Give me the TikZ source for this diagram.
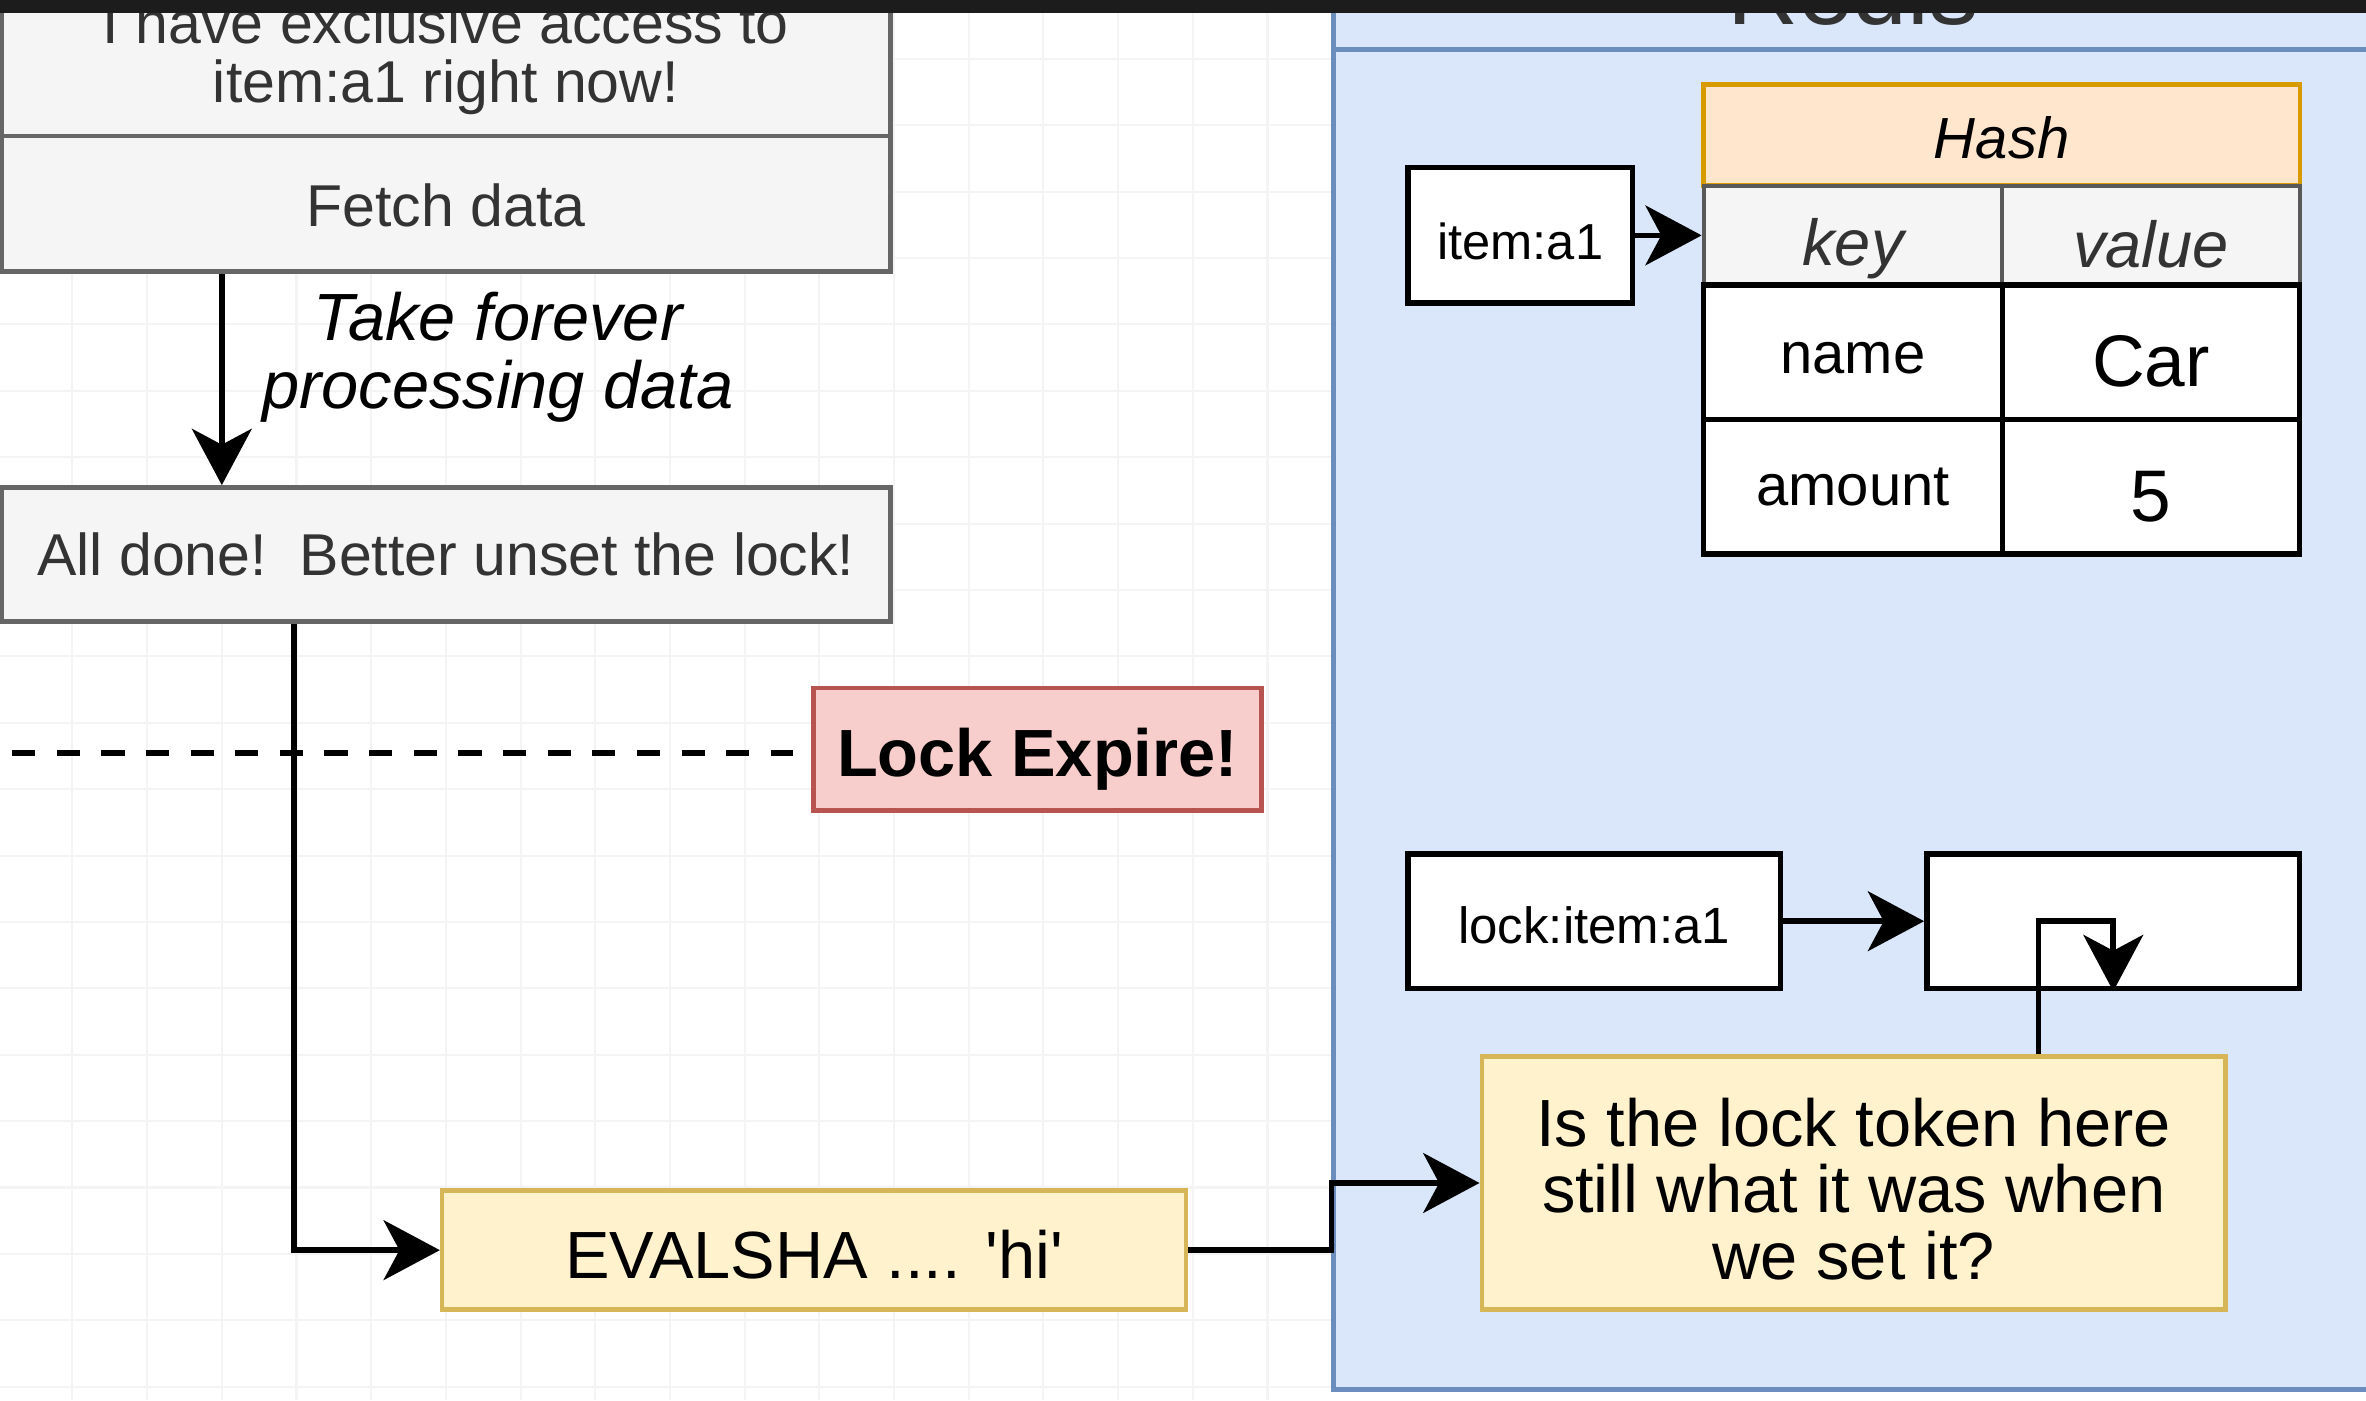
\documentclass[tikz,border=0pt]{standalone}
\usepackage{fontspec}
\setmainfont{Liberation Sans}
\usetikzlibrary{arrows.meta,positioning}
\definecolor{boxgray}{HTML}{F5F5F5}
\definecolor{edgegray}{HTML}{666666}
\definecolor{textgray}{HTML}{333333}
\definecolor{expfill}{HTML}{F8CECC}
\definecolor{expedge}{HTML}{B85450}
\definecolor{notefill}{HTML}{FFF2CC}
\definecolor{noteedge}{HTML}{D6B656}
\definecolor{redisfill}{HTML}{DAE6FA}
\definecolor{redisedge}{HTML}{6C8EBF}
\definecolor{hashfill}{HTML}{FFE6CC}
\definecolor{hashedge}{HTML}{D79B00}
\definecolor{gridline}{HTML}{F4F4F4}
\definecolor{topbar}{HTML}{1C1C1C}
\newcommand{\pxu}{0.01509cm}
\newcommand{\fs}[2]{\fontsize{#1}{#2}\selectfont}
% push a text down inside its box, keeping the box size
\newcommand{\dn}[2]{\raisebox{-#1pt}[\height][\depth]{#2}}
\tikzset{
  cell/.style 2 args={draw, line width=1.6pt, inner sep=0pt, align=center,
    minimum width=#1*\pxu, minimum height=#2*\pxu},
  graybox/.style={fill=boxgray, draw=edgegray, text=textgray, line width=1.3pt},
  arr/.style={line width=1.6pt, -{Stealth[length=16pt,width=17pt,inset=4.5pt]}},
}
\begin{document}
\begin{tikzpicture}[x=\pxu, y=-\pxu]
  \useasboundingbox (0,0) rectangle (1568,928);
  \clip (0,0) rectangle (1568,928);
  % grid
  \foreach \gx in {48,97.5,...,880}
    \draw[gridline, line width=0.6pt] (\gx,0) -- (\gx,928);
  \foreach \gy in {39,83,...,928}
    \draw[gridline, line width=0.6pt] (0,\gy) -- (884,\gy);

  \coordinate (fall) at (147,250);
  \coordinate (drop) at (195,412);
  \coordinate (dashstart) at (8,499);
  \coordinate (hdr) at (0,33);
  \coordinate (turn) at (1351,612);

  % redis container
  \node[draw=redisedge, fill=redisfill, line width=1.4pt, inner sep=0pt,
    minimum width=716*\pxu, minimum height=961*\pxu] (redis) at (1242,440.5) {};
  \draw[redisedge, line width=1.4pt] (redis.west |- hdr) -- (redis.east |- hdr);
  \node[anchor=base, text=textgray, font=\fs{28}{28}] (redistitle) at (1228,16) {Redis};

  % client side
  \node[cell={589}{103}, graybox, font=\fs{16.8}{16.8}] (access) at (295.5,38.5)
    {I have exclusive access to\\item:a1 right now!};
  \node[cell={589}{90}, graybox, font=\fs{16.8}{16.8}] (fetch) at (295.5,135) {\dn{0.5}{Fetch data}};
  \node[cell={589}{89}, graybox, font=\fs{16.8}{16.8}] (done) at (295.5,367.5)
    {All done!\ \ Better unset the lock!};
  \node[font=\itshape\fs{19}{19.3}, align=center] (slow) at (330,237)
    {Take forever\\processing data};
  \node[cell={297}{81}, fill=expfill, draw=expedge, line width=1.3pt, font=\bfseries\fs{19}{19}]
    (expire) at (687.5,496.5) {\dn{3}{Lock Expire!}};
  \node[cell={493}{79}, fill=notefill, draw=noteedge, line width=1.3pt, font=\fs{19}{19}]
    (evalsha) at (539.5,828.5) {\dn{1.3}{EVALSHA .... \textquotesingle hi\textquotesingle}};

  % redis side
  \node[cell={149}{90}, fill=white, font=\fs{14.4}{14.4}] (itemkey) at (1007.5,156) {\dn{1.7}{item:a1}};
  \node[cell={395}{67}, fill=hashfill, draw=hashedge, line width=1.2pt,
    font=\itshape\fs{16.5}{16.5}] (hash) at (1326.5,89.5) {\dn{0.9}{Hash}};
  \node[cell={198}{66}, graybox, draw=black!65, line width=1.1pt,
    font=\itshape\fs{18.5}{18.5}] (keyhead) at (1228,156) {\dn{3.9}{key}};
  \node[cell={197}{66}, graybox, draw=black!65, line width=1.1pt,
    font=\itshape\fs{18.5}{18.5}] (valhead) at (1425.5,156) {\dn{2.6}{value}};
  \node[cell={198}{89}, fill=white, font=\fs{16.5}{16.5}] (namekey) at (1228,233.5) {\dn{1.7}{name}};
  \node[cell={197}{89}, fill=white, font=\fs{20.8}{20.8}] (nameval) at (1425.5,233.5) {\dn{2.6}{Car}};
  \node[cell={198}{89}, fill=white, font=\fs{16.5}{16.5}] (amountkey) at (1228,322.5) {amount};
  \node[cell={197}{89}, fill=white, font=\fs{20.8}{20.8}] (amountval) at (1425.5,322.5) {\dn{3}{5}};
  \node[cell={247}{89}, fill=white, font=\fs{14.5}{14.5}] (lockkey) at (1056.5,610.5) {\dn{1.3}{lock:item:a1}};
  \node[cell={247}{89}, fill=white] (lockval) at (1400.5,610.5) {};
  \node[cell={493}{168}, fill=notefill, draw=noteedge, line width=1.3pt, font=\fs{19}{18.9}]
    (check) at (1228.5,784) {\dn{1.7}{Is the lock token here}\\\dn{1.7}{still what it was when}\\\dn{1.7}{we set it?}};

  % connectors
  \draw[arr] (fetch.south -| fall) -- (done.north -| fall);
  \draw[line width=1.6pt, dash pattern=on 6.6pt off 6.1pt, shorten >=5.2pt]
    (dashstart) -- (expire.west |- dashstart);
  \draw[arr] (done.south -| drop) |- (evalsha.west);
  \draw[arr] (evalsha.east) -- (evalsha.east -| redis.west) |- (check.west);
  \draw[arr] (itemkey.east) -- (keyhead.west);
  \draw[arr] (lockkey.east) -- (lockval.west);
  \draw[arr] (check.north -| turn) |- (lockval.center) -- (lockval.south);

  \fill[topbar] (0,0) rectangle (1568,8.5);
\end{tikzpicture}
\end{document}
